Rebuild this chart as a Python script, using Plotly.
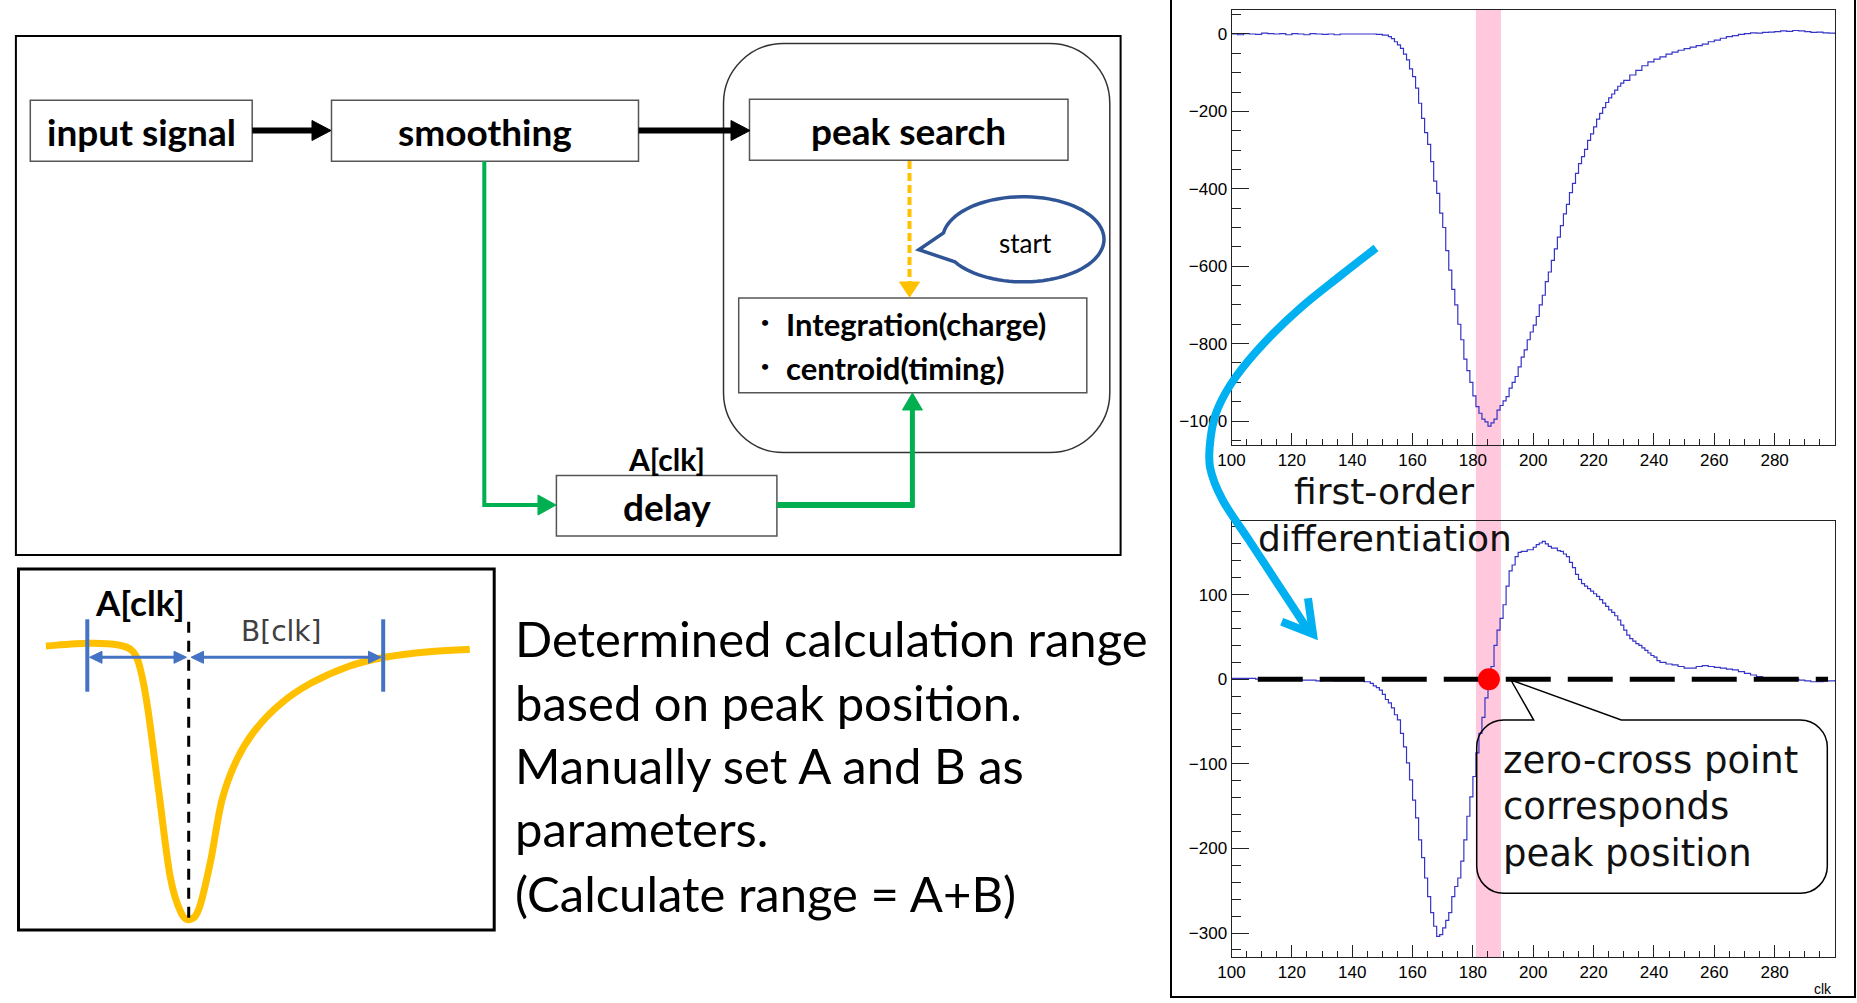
import plotly.graph_objects as go
import math

# ---------------- data ----------------
clk_top = [100,102,104,106,108,110,112,114,116,118,120,122,124,126,128,130,132,134,136,138,140,142,144,146,148,150,152,153,154,155,156,157,158,159,160,161,162,163,164,165,166,167,168,169,170,171,172,173,174,175,176,177,178,179,180,181,182,183,184,185,186,187,188,189,190,191,192,193,194,195,196,197,198,199,200,201,202,203,204,205,206,207,208,209,210,211,212,213,214,215,216,217,218,219,220,221,222,223,224,225,226,227,228,229,230,232,234,236,238,240,242,244,246,248,250,252,254,256,258,260,262,264,266,268,270,272,274,276,278,280,282,284,286,288,290,292,294,296,298,300]
adc_top = [0,-2,1,0,-1,2,1,0,1,-2,1,0,-2,1,0,-1,0,-2,0,0,0,0,0,0,-1,-3,-7,-12,-20,-28,-37,-52,-67,-90,-110,-140,-179,-218,-255,-285,-330,-380,-412,-463,-500,-560,-610,-660,-700,-750,-790,-840,-870,-900,-935,-963,-980,-995,-1002,-1013,-1005,-995,-972,-960,-948,-937,-915,-900,-885,-860,-835,-816,-790,-770,-752,-730,-700,-675,-640,-615,-585,-555,-525,-495,-465,-440,-410,-386,-360,-335,-317,-298,-275,-258,-240,-220,-205,-190,-177,-165,-155,-145,-135,-127,-120,-106,-94,-82,-72,-65,-59,-52,-47,-42,-38,-34,-30,-26,-20,-16,-11,-7,-4,-1,1,3,2,4,5,6,8,7,9,8,6,4,5,3,2,0]

clk_diff = [100,104,108,112,116,120,124,128,130,134,138,142,144,146,147,148,149,150,151,152,153,154,155,156,157,158,159,160,161,162,163,164,165,166,167,168,169,170,171,172,173,174,175,176,177,178,179,180,181,182,183,184,185,186,187,188,189,190,191,192,193,194,195,196,198,200,201,202,203,204,205,206,208,209,210,211,212,213,214,215,216,217,218,219,220,221,222,223,224,225,226,227,228,229,230,231,232,233,234,235,236,237,238,239,240,241,242,244,246,248,250,252,254,256,258,260,262,264,266,268,270,272,274,276,278,282,286,288,290,292,294,296,298,300]
val_diff = [1,1,0,1,0,-1,-1,-2,-1,-2,-2,-2,-3,-5,-8,-10,-13,-18,-24,-28,-34,-42,-48,-64,-80,-99,-119,-143,-164,-190,-211,-235,-257,-276,-292,-304,-302,-294,-285,-276,-257,-245,-235,-215,-190,-162,-139,-115,-87,-64,-45,-22,-5,15,40,58,72,88,110,128,135,145,150,151,153,156,159,161,163,160,157,155,152,151,148,145,138,132,124,118,113,110,107,104,101,98,94,90,86,82,79,75,70,64,58,52,48,45,42,40,37,34,31,28,26,22,20,18,17,15,13,13,15,16,15,14,13,12,11,9,7,5,3,2,1,1,0,-1,-2,-3,-3,-2,-2,-1]

x_ticks = [100,120,140,160,180,200,220,240,260,280]
y_ticks_top = [0,-200,-400,-600,-800,-1000]
y_ticks_diff = [100,0,-100,-200,-300]
band_clk = [181.0, 189.3]          # highlighted peak window
zero_line_clk = [108.7, 297.7]     # dashed zero reference
zero_cross_clk = 185.3

# ---------------- helpers (pixel -> paper) ----------------
W, H = 1857, 1003
def X(p): return p / W
def Y(p): return 1 - p / H
def P(x, y): return f"{X(x):.5f},{Y(y):.5f}"

shapes, annotations = [], []

def add_line(x0, y0, x1, y1, color, width, dash=None):
    shapes.append(dict(type='line', xref='paper', yref='paper', x0=X(x0), y0=Y(y0), x1=X(x1), y1=Y(y1),
                       line=dict(color=color, width=width, dash=dash), layer='above'))

def add_rect(x0, y0, x1, y1, color, width, fill='rgba(0,0,0,0)'):
    shapes.append(dict(type='rect', xref='paper', yref='paper', x0=X(x0), y0=Y(y0), x1=X(x1), y1=Y(y1),
                       line=dict(color=color, width=width), fillcolor=fill, layer='above'))

def add_path(d, color, width, fill='rgba(0,0,0,0)', dash=None):
    shapes.append(dict(type='path', xref='paper', yref='paper', path=d,
                       line=dict(color=color, width=width, dash=dash), fillcolor=fill, layer='above'))

def polyline(pts, close=False):
    return 'M ' + ' L '.join(P(x, y) for x, y in pts) + (' Z' if close else '')

def smooth(pts):
    d = 'M ' + P(*pts[0])
    n = len(pts)
    for i in range(n - 1):
        p0 = pts[i - 1] if i > 0 else pts[i]
        p1, p2 = pts[i], pts[i + 1]
        p3 = pts[i + 2] if i + 2 < n else pts[i + 1]
        c1 = (p1[0] + (p2[0] - p0[0]) / 6, p1[1] + (p2[1] - p0[1]) / 6)
        c2 = (p2[0] - (p3[0] - p1[0]) / 6, p2[1] - (p3[1] - p1[1]) / 6)
        d += f' C {P(*c1)} {P(*c2)} {P(*p2)}'
    return d

def arrowhead(tip, base, half, color):
    tx, ty = tip; bx, by = base
    dx, dy = tx - bx, ty - by
    L = (dx * dx + dy * dy) ** 0.5
    nx, ny = -dy / L, dx / L
    pts = [(tx, ty), (bx + nx * half, by + ny * half), (bx - nx * half, by - ny * half)]
    add_path(polyline(pts, True), color, 1, fill=color)

def rrect(x0, y0, x1, y1, r, gap=None):
    k = 0.552 * r
    d = f'M {P(x0 + r, y0)} '
    if gap:
        d += f'L {P(*gap[0])} L {P(*gap[1])} L {P(*gap[2])} '
    d += (f'L {P(x1 - r, y0)} C {P(x1 - r + k, y0)} {P(x1, y0 + r - k)} {P(x1, y0 + r)} '
          f'L {P(x1, y1 - r)} C {P(x1, y1 - r + k)} {P(x1 - r + k, y1)} {P(x1 - r, y1)} '
          f'L {P(x0 + r, y1)} C {P(x0 + r - k, y1)} {P(x0, y1 - r + k)} {P(x0, y1 - r)} '
          f'L {P(x0, y0 + r)} C {P(x0, y0 + r - k)} {P(x0 + r - k, y0)} {P(x0 + r, y0)} Z')
    return d

def text(x, y, s, size, family='Lato', color='black', bold=False, xanchor='center'):
    annotations.append(dict(xref='paper', yref='paper', x=X(x), y=Y(y),
                            text=f'<b>{s}</b>' if bold else s, showarrow=False,
                            xanchor=xanchor, yanchor='middle',
                            font=dict(family=family, size=size, color=color)))

# ---------------- top-left flow diagram ----------------
add_rect(15.9, 36.1, 1120.6, 555, 'black', 2)
add_path(rrect(723.5, 43.5, 1109.8, 452.6, 60), '#333333', 1.5)
box_c = '#555555'
add_rect(30.3, 100.3, 252.2, 161.2, box_c, 1.5)
add_rect(331.5, 100.3, 638.5, 161.2, box_c, 1.5)
add_rect(749.5, 99.3, 1068, 160.2, box_c, 1.5)
add_rect(738.7, 298, 1086.8, 392.7, box_c, 1.5)
add_rect(556.4, 475.6, 776.9, 536, box_c, 1.5)

add_line(252.2, 130.5, 313, 130.5, 'black', 6)
arrowhead((331, 130.5), (312, 130.5), 10, 'black')
add_line(638.5, 130.5, 732, 130.5, 'black', 6)
arrowhead((750, 130.5), (731, 130.5), 10, 'black')

orange = '#FFC000'
add_line(909.5, 161, 909.5, 283, orange, 4, dash='8px,4px')
arrowhead((909.5, 297), (909.5, 282), 10, orange)

green = '#00B050'
add_path(polyline([(484.3, 161.2), (484.3, 505), (539, 505)]), green, 4)
arrowhead((556, 505), (538, 505), 10, green)
add_line(777, 505, 914.5, 505, green, 6)
add_line(912.4, 507, 912.4, 408, green, 5)
arrowhead((912.4, 393), (912.4, 410), 10, green)

# speech bubble "start"
cx, cy, rx, ry = 1023.3, 239.3, 80.7, 42.6
pts = []
for i in range(0, 81):
    t = math.radians(188.6 + (508.0 - 188.6) * i / 80)
    pts.append((cx + rx * math.cos(t), cy + ry * math.sin(t)))
pts.append((918.8, 249.7))
add_path(polyline(pts, True), '#2F5597', 3.5, fill='white')

text(141.2, 131, 'input signal', 37, bold=True)
text(484.7, 131, 'smoothing', 37, bold=True)
text(908.8, 130, 'peak search', 37, bold=True)
text(666.6, 506, 'delay', 37, bold=True)
text(666.6, 459, 'A[clk]', 30, bold=True)
text(1025, 243, 'start', 26)
text(765, 322, '•', 14, bold=True)
text(765, 366, '•', 14, bold=True)
text(784, 324, 'Integration(charge)', 31, bold=True, xanchor='left')
text(784, 368, 'centroid(timing)', 31, bold=True, xanchor='left')

# ---------------- bottom-left sketch ----------------
add_rect(18.5, 569, 494.2, 930, 'black', 3)
sketch_pts = [(45.9, 646), (88.8, 643.3), (118.4, 645), (133.2, 651.7), (140.6, 670), (148, 710),
              (159, 793.3), (170.2, 876.7), (181.3, 913.3), (190.9, 919.3), (199.7, 906.7),
              (210.8, 860), (222, 800), (236.7, 760), (255.2, 730), (281.1, 703.3), (310.7, 683.3),
              (347.7, 666.7), (384.7, 657.3), (429.1, 651.7), (469.8, 649.3)]
add_path(smooth(sketch_pts), orange, 7)
add_line(188.7, 621.7, 188.7, 918.3, 'black', 3, dash='11px,8px')
blue = '#4472C4'
add_line(87.3, 619.3, 87.3, 691.7, blue, 4)
add_line(383.2, 619.3, 383.2, 691.7, blue, 4)
add_line(100, 657.3, 175, 657.3, blue, 3)
arrowhead((89.5, 657.3), (102, 657.3), 6, blue)
arrowhead((186.5, 657.3), (174, 657.3), 6, blue)
add_line(203, 657.3, 369, 657.3, blue, 3)
arrowhead((191, 657.3), (203.5, 657.3), 6, blue)
arrowhead((381, 657.3), (368.5, 657.3), 6, blue)
text(139.8, 601.7, 'A[clk]', 35, bold=True)
text(281, 631.7, 'B[clk]', 28, family='DejaVu Sans', color='#404040')

lines = ['Determined calculation range', 'based on peak position.', 'Manually set A and B as',
         'parameters.', '(Calculate range = A+B)']
for s, yy in zip(lines, [638.2, 701.5, 764.8, 828.2, 893.2]):
    text(512.7, yy, s, 49, xanchor='left')

# ---------------- right charts ----------------
xd = [X(1231.5), X(1835)]
yd_top = [Y(445), Y(10)]
yd_bot = [Y(956.7), Y(521)]

fig = go.Figure()
line_c = '#3434C8'
fig.add_trace(go.Scatter(x=clk_top, y=adc_top, mode='lines', line=dict(color=line_c, width=1.2, shape='hv'),
                         xaxis='x', yaxis='y', showlegend=False, hoverinfo='skip'))
fig.add_trace(go.Scatter(x=clk_diff, y=val_diff, mode='lines', line=dict(color=line_c, width=1.2, shape='hv'),
                         xaxis='x2', yaxis='y2', showlegend=False, hoverinfo='skip'))
fig.add_trace(go.Scatter(x=zero_line_clk, y=[0, 0], mode='lines',
                         line=dict(color='black', width=5, dash='45px,17px'),
                         xaxis='x2', yaxis='y2', showlegend=False, hoverinfo='skip'))
fig.add_trace(go.Scatter(x=[zero_cross_clk], y=[0], mode='markers', marker=dict(color='#FF0000', size=22),
                         xaxis='x2', yaxis='y2', showlegend=False, hoverinfo='skip'))

# pink peak window spanning both charts
shapes.append(dict(type='rect', xref='x', yref='paper', x0=band_clk[0], x1=band_clk[1], y0=Y(957), y1=Y(9),
                   fillcolor='#FFC8DC', line=dict(width=0), layer='below'))

# right panel border
add_path(polyline([(1171, -3), (1171, 997), (1855, 997), (1855, -3)]), 'black', 2)

# blue curved arrow
arc = [(1376, 248), (1340, 276), (1301.5, 307), (1265, 342), (1235.7, 377), (1218, 408),
       (1211, 435), (1210, 467), (1222.6, 500), (1248.9, 540), (1279.6, 586.7), (1308, 630)]
add_path(smooth(arc), '#00B0F0', 8)
add_path(polyline([(1281.7, 621.7), (1313, 634), (1308, 598.3)]), '#00B0F0', 8)

# callout box
add_path(rrect(1476.7, 720, 1827.3, 893.3, 27, gap=[(1533.7, 720), (1510.9, 680), (1621.3, 720)]),
         'black', 1.5)
for s, yy in zip(['zero-cross point', 'corresponds', 'peak position'], [760, 806.7, 853.3]):
    text(1500.8, yy, s, 37, family='DejaVu Sans', color='#111111', xanchor='left')
text(1384.2, 491.7, 'first-order', 36, family='DejaVu Sans', color='#111111')
text(1384.5, 538, 'differentiation', 36, family='DejaVu Sans', color='#111111')
text(1834, 989, 'clk', 14, family='Liberation Sans', xanchor='right')

tickfont = dict(family='Liberation Sans', size=17, color='black')
common_x = dict(range=[100, 300], tickvals=x_ticks, ticks='inside', ticklen=12, tickcolor='#222222',
                minor=dict(dtick=5, tick0=100, ticks='inside', ticklen=6, tickcolor='#222222'),
                showgrid=False, zeroline=False, showline=True, mirror=True, linecolor='#222222',
                linewidth=1, tickfont=tickfont, domain=xd, automargin=False)
common_y = dict(ticks='inside', ticklen=17, tickcolor='#222222', showgrid=False, zeroline=False,
                showline=True, mirror=True, linecolor='#222222', linewidth=1, tickfont=tickfont,
                automargin=False)
fig.update_layout(
    width=W, height=H, margin=dict(l=0, r=0, t=0, b=0, pad=0, autoexpand=False),
    paper_bgcolor='white', plot_bgcolor='rgba(0,0,0,0)',
    xaxis=dict(anchor='y', **common_x),
    xaxis2=dict(anchor='y2', **common_x),
    yaxis=dict(anchor='x', domain=yd_top, range=[-1062, 62], tickvals=y_ticks_top,
               minor=dict(dtick=50, tick0=0, ticks='inside', ticklen=9, tickcolor='#222222'), **common_y),
    yaxis2=dict(anchor='x2', domain=yd_bot, range=[-328, 187], tickvals=y_ticks_diff,
                minor=dict(dtick=20, tick0=0, ticks='inside', ticklen=9, tickcolor='#222222'), **common_y),
    shapes=shapes, annotations=annotations, showlegend=False,
)
fig.write_html('out.html', config={'displayModeBar': False})
